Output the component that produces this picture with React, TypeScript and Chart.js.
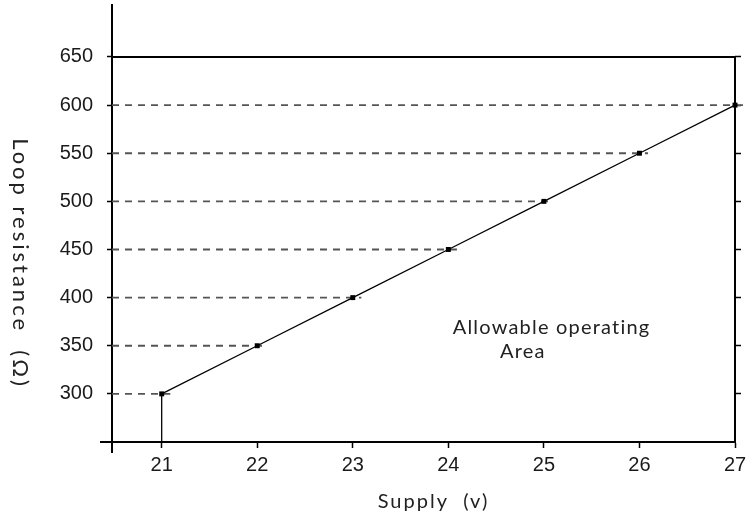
import React, { useEffect, useRef } from "react";
import { Chart, registerables } from "chart.js";

Chart.register(...registerables);

const supply = [21, 22, 23, 24, 25, 26, 27];
const resistance = [300, 350, 400, 450, 500, 550, 600];
const yTicks = [300, 350, 400, 450, 500, 550, 600, 650];
const xMin = 20.48;
const xMax = 27;
const yMin = 250;
const yMax = 704;
const boxTop = 650;
const xTitle = "Supply  (v)";
const yTitle = "Loop resistance  (Ω)";
const noteLines = ["Allowable operating", "Area"];
const noteXs = [25.08, 24.78];
const noteYs = [369, 344];

const TITLE_FONT = "Lato, 'Open Sans', sans-serif";

const decorPlugin = {
  id: "decor",
  afterDraw(chart: any) {
    const { ctx, chartArea, scales } = chart;
    const xs = scales.x;
    const ys = scales.y;
    ctx.save();
    ctx.strokeStyle = "#000";
    ctx.lineWidth = 2;
    ctx.beginPath();
    ctx.moveTo(chartArea.left - 12, chartArea.bottom);
    ctx.lineTo(chartArea.left, chartArea.bottom);
    ctx.moveTo(chartArea.left, chartArea.bottom);
    ctx.lineTo(chartArea.left, chartArea.bottom + 11);
    ctx.stroke();
    ctx.fillStyle = "#222";
    ctx.font = `20px ${TITLE_FONT}`;
    (ctx as any).letterSpacing = "1.2px";
    ctx.textAlign = "center";
    ctx.textBaseline = "middle";
    noteLines.forEach((t, i) => {
      ctx.fillText(t, xs.getPixelForValue(noteXs[i]), ys.getPixelForValue(noteYs[i]));
    });
    ctx.font = `20px ${TITLE_FONT}`;
    (ctx as any).letterSpacing = "2px";
    ctx.fillText(xTitle, (chartArea.left + chartArea.right) / 2 + 10, 502);
    ctx.translate(20, (chartArea.top + chartArea.bottom) / 2 + 40);
    ctx.rotate(Math.PI / 2);
    ctx.font = `22px ${TITLE_FONT}`;
    (ctx as any).letterSpacing = "3px";
    ctx.fillText(yTitle, 0, 0);
    ctx.restore();
  },
};

export default function App() {
  const ref = useRef<HTMLCanvasElement | null>(null);
  useEffect(() => {
    if (!ref.current) return;
    const dashed = supply.map((s, i) => ({
      type: "line" as const,
      data: [
        { x: xMin, y: resistance[i] },
        { x: s + 0.09, y: resistance[i] },
      ],
      borderColor: "#555",
      borderWidth: 1.8,
      borderDash: [7, 6],
      pointRadius: 0,
      clip: false as any,
      order: 3,
    }));
    const zeroPad = (s: any) => {
      s.paddingTop = 0;
      s.paddingBottom = 0;
      s.paddingLeft = 0;
      s.paddingRight = 0;
    };
    const chart = new Chart(ref.current, {
      type: "line",
      data: {
        datasets: [
          {
            data: supply.map((s, i) => ({ x: s, y: resistance[i] })),
            borderColor: "#000",
            borderWidth: 1.3,
            pointStyle: "rect",
            pointRadius: 3.5,
            pointBackgroundColor: "#000",
            pointBorderColor: "#000",
            pointBorderWidth: 0,
            clip: false as any,
            order: 1,
          },
          {
            data: [
              { x: supply[0], y: yMin },
              { x: supply[0], y: resistance[0] },
            ],
            borderColor: "#000",
            borderWidth: 1.3,
            pointRadius: 0,
            order: 2,
          },
          {
            data: [
              { x: xMin, y: boxTop },
              { x: xMax, y: boxTop },
              { x: xMax, y: yMin },
            ],
            borderColor: "#000",
            borderWidth: 2,
            pointRadius: 0,
            clip: false as any,
            order: 2,
          },
          ...dashed,
        ] as any,
      },
      options: {
        animation: false,
        responsive: true,
        maintainAspectRatio: false,
        layout: { padding: { top: 5, left: 0, right: 0, bottom: 0 } },
        plugins: { legend: { display: false }, tooltip: { enabled: false } },
        scales: {
          x: {
            type: "linear",
            min: xMin,
            max: xMax,
            afterBuildTicks: (s: any) => {
              s.ticks = supply.map((v) => ({ value: v }));
            },
            afterFit: (s: any) => {
              s.height = 84;
              zeroPad(s);
            },
            ticks: {
              font: { family: "'Liberation Sans', Arial, sans-serif", size: 20 },
              color: "#1a1a1a",
              padding: 5,
              maxRotation: 0,
              autoSkip: false,
            },
            grid: {
              drawOnChartArea: false,
              tickLength: 6,
              tickColor: "#000",
              tickWidth: 1.5,
            },
            border: { color: "#000", width: 2 },
          },
          y: {
            type: "linear",
            position: "left",
            min: yMin,
            max: yMax,
            afterBuildTicks: (s: any) => {
              s.ticks = yTicks.map((v) => ({ value: v }));
            },
            afterFit: (s: any) => {
              s.width = 112;
              zeroPad(s);
            },
            ticks: {
              font: { family: "'Liberation Sans', Arial, sans-serif", size: 20 },
              color: "#1a1a1a",
              padding: 14,
              autoSkip: false,
            },
            grid: {
              drawOnChartArea: false,
              tickLength: 5,
              tickColor: "#000",
              tickWidth: 1.5,
            },
            border: { color: "#000", width: 2 },
          },
          y2: {
            type: "linear",
            position: "right",
            min: yMin,
            max: yMax,
            afterBuildTicks: (s: any) => {
              s.ticks = yTicks.map((v) => ({ value: v }));
            },
            afterFit: (s: any) => {
              s.width = 17;
              zeroPad(s);
            },
            ticks: { display: false },
            grid: {
              drawOnChartArea: false,
              tickLength: 6,
              tickColor: "#000",
              tickWidth: 1.5,
            },
            border: { display: false },
          },
        },
      },
      plugins: [decorPlugin],
    });
    return () => chart.destroy();
  }, []);
  return (
    <div style={{ position: "fixed", left: 0, top: 0, width: 752, height: 526, background: "#fff" }}>
      <canvas ref={ref} />
    </div>
  );
}
